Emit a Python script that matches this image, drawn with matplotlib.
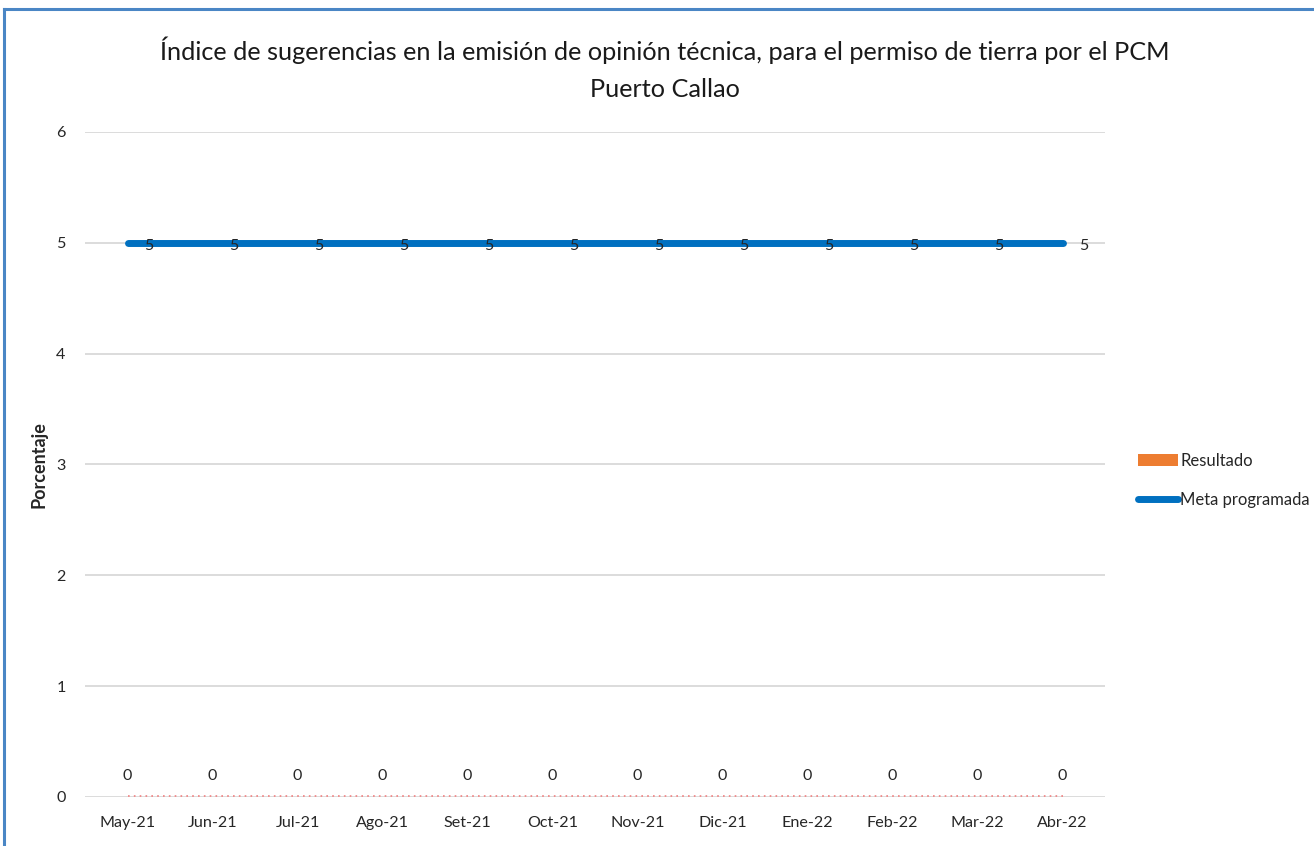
import matplotlib.pyplot as plt
from matplotlib.lines import Line2D
from matplotlib.patches import Patch

plt.rcParams['font.family'] = ['Lato', 'DejaVu Sans']

meses = ['May-21', 'Jun-21', 'Jul-21', 'Ago-21', 'Set-21', 'Oct-21',
         'Nov-21', 'Dic-21', 'Ene-22', 'Feb-22', 'Mar-22', 'Abr-22']
resultado = [0, 0, 0, 0, 0, 0, 0, 0, 0, 0, 0, 0]
meta = [5, 5, 5, 5, 5, 5, 5, 5, 5, 5, 5, 5]

fig = plt.figure(figsize=(13.14, 8.46), dpi=100)
ax = fig.add_axes([0.0647, 0.058, 0.7763, 0.786])

x = list(range(len(meses)))

# Resultado (barras en cero)
ax.bar(x, resultado, width=0.6, color='#ED7D31', zorder=2)
ax.plot(x, [v + 0.012 for v in resultado], linestyle=(0, (1, 2.5)), color='#F08080',
        linewidth=1.2, zorder=3, clip_on=False)
for xi, v in zip(x, resultado):
    ax.annotate(f'{v}', (xi, v), xytext=(0, 10), textcoords='offset points',
                ha='center', va='bottom', fontsize=11.5, color='#262626')

# Meta programada
ax.plot(x, meta, color='#0070C0', linewidth=5, solid_capstyle='round', zorder=4)
for xi, v in zip(x, meta):
    ax.annotate(f'{v}', (xi, v), xytext=(15, -2), textcoords='offset points',
                ha='center', va='center', fontsize=11.5, color='#262626', zorder=5)

ax.set_xlim(-0.5, len(meses) - 0.5)
ax.set_ylim(0, 6)
ax.set_yticks(range(0, 7))
ax.set_xticks(x)
ax.set_xticklabels(meses)
ax.tick_params(axis='both', length=0, labelsize=11.6, labelcolor='#262626')
ax.tick_params(axis='y', pad=14)
ax.tick_params(axis='x', pad=14)
ax.grid(axis='y', color='#D9D9D9', linewidth=1.3, zorder=0)
ax.set_axisbelow(True)
for s in ax.spines.values():
    s.set_visible(False)

ax.set_ylabel('Porcentaje', fontsize=13, fontweight='bold', color='#262626', labelpad=6)

fig.text(0.506, 0.919,
         'Índice de sugerencias en la emisión de opinión técnica, para el permiso de tierra por el PCM\nPuerto Callao',
         ha='center', va='center', fontsize=18.2, color='#1a1a1a', linespacing=1.75)

handles = [Patch(facecolor='#ED7D31', label='Resultado'),
           Line2D([0], [0], color='#0070C0', linewidth=5, solid_capstyle='round', label='Meta programada')]
fig.legend(handles=handles, loc='center left', bbox_to_anchor=(0.855, 0.432),
           frameon=False, fontsize=12, handlelength=2.4, handletextpad=0.1,
           labelspacing=1.4, labelcolor='#262626')

# borde del gráfico
fig.add_artist(Line2D([0.003, 0.003], [0, 0.989], color='#4A86C5', linewidth=2.2, transform=fig.transFigure))
fig.add_artist(Line2D([0.003, 1.0], [0.989, 0.989], color='#4A86C5', linewidth=2.2, transform=fig.transFigure))

fig.savefig('out.png', dpi=100)
